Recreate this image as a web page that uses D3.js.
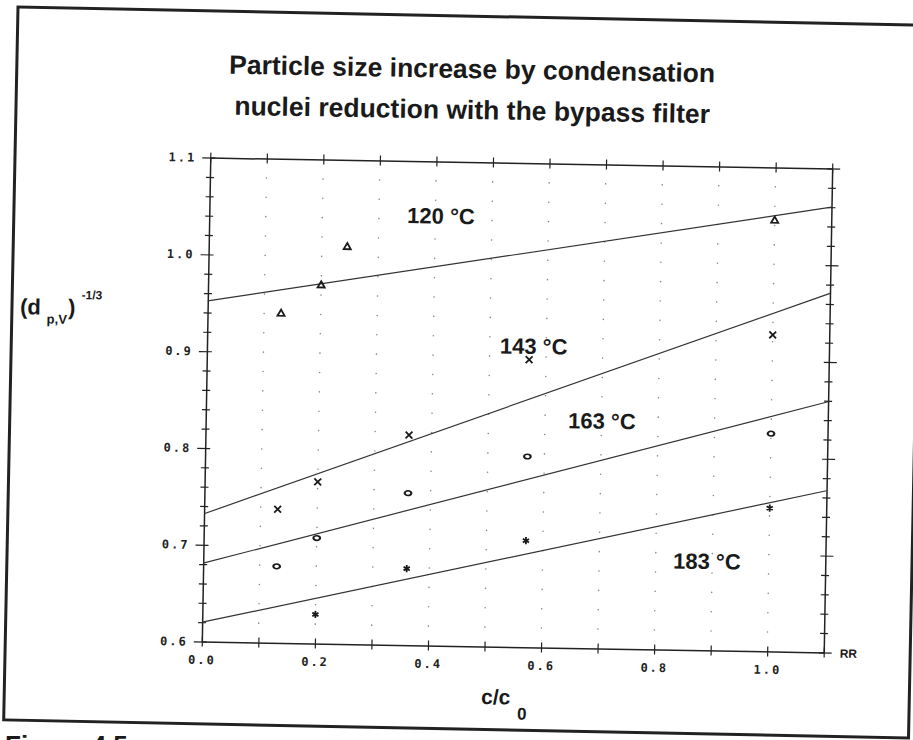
<!DOCTYPE html>
<html>
<head>
<meta charset="utf-8">
<script src="https://cdn.jsdelivr.net/npm/d3@7"></script>
<style>
  body { margin: 0; background: #fff; }
  .tick text { font-family: "DejaVu Sans Mono", monospace; font-weight: bold; font-size: 12px; letter-spacing: 2px; fill: #222; }
  .lbl { font-family: "Liberation Sans", Arial, sans-serif; font-weight: bold; fill: #1a1a1a; }
</style>
</head>
<body>
<div id="chart"></div>
<script>
// ---- data ----
var tempLabels = ["120 °C", "143 °C", "163 °C", "183 °C"];

// measured points: c/c0 and (d p,V)^-1/3
var cc120 = [0.13, 0.20, 0.245, 1.00];
var dp120 = [0.940, 0.970, 1.010, 1.045];
var cc143 = [0.13, 0.20, 0.36, 0.57, 1.00];
var dp143 = [0.738, 0.767, 0.817, 0.897, 0.927];
var cc163 = [0.13, 0.20, 0.36, 0.57, 1.00];
var dp163 = [0.679, 0.709, 0.757, 0.797, 0.825];
var cc183 = [0.20, 0.36, 0.57, 1.00];
var dp183 = [0.630, 0.679, 0.710, 0.748];

// fitted lines, evaluated at both ends of the x range
var fitX = [0, 1.1];
var fit120 = [0.952, 1.060];
var fit143 = [0.732, 0.971];
var fit163 = [0.681, 0.859];
var fit183 = [0.620, 0.767];

// tick labels
var xLabelVals = [0, 0.2, 0.4, 0.6, 0.8, 1.0];
var xLabels = ["0.0", "0.2", "0.4", "0.6", "0.8", "1.0"];
var yLabelVals = [0.6, 0.7, 0.8, 0.9, 1.0, 1.1];
var yLabels = ["0.6", "0.7", "0.8", "0.9", "1.0", "1.1"];

// where the temperature labels sit (data units, baseline start)
var labelCc = [0.35, 0.518, 0.641, 0.831];
var labelDp = [1.036, 0.903, 0.827, 0.684];

// ---- layout ----
var svgWidth = 913;
var svgHeight = 740;
var margin = { top: 163, left: 206 };
var width = 622;
var height = 484;

// the scan is tilted slightly clockwise
var tilt = 1.0;
var cx = 517, cy = 405;

// screen point -> point before the tilt is applied
function unrot(sx, sy) {
  var a = -tilt * Math.PI / 180;
  var dx = sx - cx, dy = sy - cy;
  return [cx + dx * Math.cos(a) - dy * Math.sin(a), cy + dx * Math.sin(a) + dy * Math.cos(a)];
}

var svg = d3.select("#chart")
  .append("svg")
  .attr("width", svgWidth)
  .attr("height", svgHeight);

svg.append("rect").attr("width", svgWidth).attr("height", svgHeight).attr("fill", "#fff");

// outer frame of the figure
svg.append("g")
  .attr("transform", "translate(18,7) rotate(1.15)")
  .append("rect")
  .attr("width", 905)
  .attr("height", 713)
  .attr("fill", "none")
  .attr("stroke", "#222")
  .attr("stroke-width", 3);

// caption, cut off at the bottom edge as in the scan
svg.append("text")
  .attr("class", "lbl")
  .attr("x", 5)
  .attr("y", 754)
  .style("font-size", "26px")
  .text("Figure 4.5");

var page = svg.append("g").attr("transform", `rotate(${tilt}, ${cx}, ${cy})`);

// title
var t1 = unrot(472, 78);
var t2 = unrot(472, 119);
page.append("text").attr("class", "lbl").attr("x", t1[0]).attr("y", t1[1])
  .attr("text-anchor", "middle").style("font-size", "26.5px")
  .text("Particle size increase by condensation");
page.append("text").attr("class", "lbl").attr("x", t2[0]).attr("y", t2[1])
  .attr("text-anchor", "middle").style("font-size", "26.5px")
  .text("nuclei reduction with the bypass filter");

// y axis title (d p,V)^-1/3
var yt = unrot(20, 314);
var yTitle = page.append("text").attr("class", "lbl").attr("x", yt[0]).attr("y", yt[1]);
yTitle.append("tspan").style("font-size", "22px").text("(d");
yTitle.append("tspan").style("font-size", "13px").attr("dx", 6).attr("dy", 9).text("p,V");
yTitle.append("tspan").style("font-size", "22px").attr("dx", 1).attr("dy", -9).text(")");
yTitle.append("tspan").style("font-size", "12px").attr("dx", 6).attr("dy", -16).text("-1/3");

// x axis title c/c0
var xt = unrot(481, 704);
var xTitle = page.append("text").attr("class", "lbl").attr("x", xt[0]).attr("y", xt[1]);
xTitle.append("tspan").style("font-size", "21px").text("c/c");
xTitle.append("tspan").style("font-size", "17px").attr("dx", 7).attr("dy", 15).text("0");

var chartGroup = page.append("g")
  .attr("transform", `translate(${margin.left}, ${margin.top})`);

var x = d3.scaleLinear().domain([0, 1.1]).range([0, width]);
var y = d3.scaleLinear().domain([0.6, 1.1]).range([height, 0]);

function isMajor(d) {
  return Math.abs(d * 10 - Math.round(d * 10)) < 1e-6;
}

// dotted grid
var dotX = d3.range(1, 11).map(i => i / 10);
var dotY = d3.range(1, 25).map(i => +(0.6 + i * 0.02).toFixed(2));
var dots = [];
dotX.forEach(a => dotY.forEach(b => dots.push([a, b])));
chartGroup.append("g").selectAll("circle")
  .data(dots)
  .enter()
  .append("circle")
  .attr("cx", d => x(d[0]))
  .attr("cy", d => y(d[1]))
  .attr("r", 0.8)
  .attr("fill", "#888");

// axes with crossing ticks
var minorY = d3.range(0, 26).map(i => +(0.6 + i * 0.02).toFixed(2));
var stepX = d3.range(0, 12).map(i => i / 10);

var leftAxis = chartGroup.append("g")
  .call(d3.axisLeft(y).tickValues(minorY).tickFormat("").tickSizeOuter(0));
leftAxis.selectAll(".tick line")
  .attr("x2", d => isMajor(d) ? -8 : -4)
  .attr("x1", d => isMajor(d) ? 5 : 4);

var rightAxis = chartGroup.append("g")
  .attr("transform", `translate(${width}, 0)`)
  .call(d3.axisRight(y).tickValues(minorY).tickFormat("").tickSizeOuter(0));
rightAxis.selectAll(".tick line")
  .attr("x2", d => isMajor(d) ? 8 : 4)
  .attr("x1", d => isMajor(d) ? -5 : -4);

var topAxis = chartGroup.append("g")
  .call(d3.axisTop(x).tickValues(stepX).tickFormat("").tickSizeOuter(0));
topAxis.selectAll(".tick line").attr("y2", -5).attr("y1", 5);

var bottomAxis = chartGroup.append("g")
  .attr("transform", `translate(0, ${height})`)
  .call(d3.axisBottom(x).tickValues(stepX).tickFormat("").tickSizeOuter(0));
bottomAxis.selectAll(".tick line").attr("y2", 5).attr("y1", -5);

chartGroup.selectAll(".domain").attr("stroke", "#222").attr("stroke-width", 1.5);
chartGroup.selectAll(".tick line").attr("stroke", "#222").attr("stroke-width", 1.2);

// tick labels
var yLab = chartGroup.append("g")
  .call(d3.axisLeft(y).tickValues(yLabelVals).tickFormat((d, i) => yLabels[i]).tickSize(0).tickPadding(14));
yLab.select(".domain").remove();

var xLab = chartGroup.append("g")
  .attr("transform", `translate(0, ${height})`)
  .call(d3.axisBottom(x).tickValues(xLabelVals).tickFormat((d, i) => xLabels[i]).tickSize(0).tickPadding(14));
xLab.select(".domain").remove();

chartGroup.append("text")
  .attr("class", "lbl")
  .attr("x", width + 16)
  .attr("y", height + 5)
  .style("font-size", "12px")
  .text("RR");

// series
var series = [
  { name: tempLabels[0], cc: cc120, dp: dp120, fit: fit120, symbol: d3.symbolTriangle2, size: 36 },
  { name: tempLabels[1], cc: cc143, dp: dp143, fit: fit143, symbol: d3.symbolTimes, size: 32 },
  { name: tempLabels[2], cc: cc163, dp: dp163, fit: fit163, symbol: d3.symbolCircle, size: 24 },
  { name: tempLabels[3], cc: cc183, dp: dp183, fit: fit183, symbol: d3.symbolAsterisk, size: 36 }
];

var fitLine = d3.line()
  .x((d, i) => x(fitX[i]))
  .y(d => y(d));

series.forEach(function (s, k) {
  chartGroup.append("path")
    .attr("d", fitLine(s.fit))
    .attr("fill", "none")
    .attr("stroke", "#333")
    .attr("stroke-width", 1.2);

  chartGroup.append("g").selectAll("path")
    .data(s.cc)
    .enter()
    .append("path")
    .attr("d", d3.symbol().type(s.symbol).size(s.size))
    .attr("transform", (d, i) => `translate(${x(d)}, ${y(s.dp[i])})` + (s.symbol === d3.symbolCircle ? " scale(1.2, 0.85)" : ""))
    .attr("fill", "none")
    .attr("stroke", "#1a1a1a")
    .attr("stroke-width", 1.8);

  chartGroup.append("text")
    .attr("class", "lbl")
    .attr("x", x(labelCc[k]))
    .attr("y", y(labelDp[k]))
    .style("font-size", "22px")
    .text(s.name);
});
</script>
</body>
</html>
